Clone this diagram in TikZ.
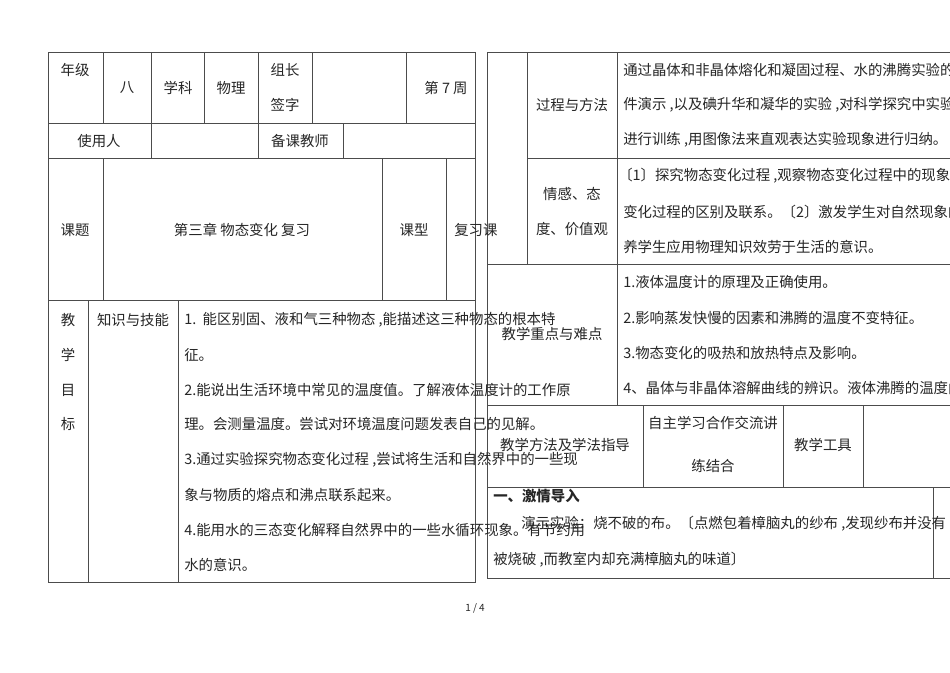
\documentclass[tikz,border=0pt]{standalone}
\usepackage{fontspec}
\setmainfont{Noto Sans CJK SC}
\begin{document}
\begin{tikzpicture}[x=0.75pt,y=-0.75pt,
  ln/.style={draw=black!70,line width=0.6pt},
  tx/.style={inner sep=0pt,font=\fontsize{10.8pt}{12pt}\selectfont,text=black!85},
  lt/.style={tx,anchor=west}]
\useasboundingbox (0,0) rectangle (950,672);
\clip (0,0) rectangle (950,672);
\fill[white] (0,0) rectangle (950,672);
% left table
\draw[ln] (48,52) rectangle (475,582);
\foreach \y in {123,158,300} \draw[ln] (48,\y) -- (475,\y);
\foreach \x in {103,151,204,258,312,406} \draw[ln] (\x,52) -- (\x,123);
\foreach \x in {151,258,343} \draw[ln] (\x,123) -- (\x,158);
\foreach \x in {103,382,446} \draw[ln] (\x,158) -- (\x,300);
\foreach \x in {88,178} \draw[ln] (\x,300) -- (\x,582);
% right table
\draw[ln] (487,52) -- (960,52);
\draw[ln] (487,52) -- (487,578) -- (960,578);
\draw[ln] (527,158) -- (960,158);
\draw[ln] (487,264) -- (960,264);
\draw[ln] (487,405) -- (960,405);
\draw[ln] (487,487) -- (960,487);
\draw[ln] (527,52) -- (527,264);
\draw[ln] (617,52) -- (617,405);
\foreach \x in {643,783,863} \draw[ln] (\x,405) -- (\x,487);
\draw[ln] (933,487) -- (933,578);
% left texts
\node[tx] (a1) at (75,70) {年级};
\node[tx] (a2) at (127,88) {八};
\node[tx] (a3) at (178,88) {学科};
\node[tx] (a4) at (231,88) {物理};
\node[tx] (a5) at (285,70) {组长};
\node[tx] (a6) at (285,105) {签字};
\node[tx] (a7) at (446,88) {第 7 周};
\node[tx] (b1) at (99,141) {使用人};
\node[tx] (b2) at (300,141) {备课教师};
\node[tx] (c1) at (75,230) {课题};
\node[tx] (c2) at (242,230) {第三章 物态变化 复习};
\node[tx] (c3) at (414,230) {课型};
\node[lt] (c4) at (454,230) {复习课};
\node[tx] (d1) at (68,320) {教};
\node[tx] (d2) at (68,355) {学};
\node[tx] (d3) at (68,390) {目};
\node[tx] (d4) at (68,424) {标};
\node[tx] (d5) at (133,320) {知识与技能};
\node[lt] (e1) at (184,320) {1.\ \ 能区别固、液和气三种物态 ,能描述这三种物态的根本特};
\node[lt] (e2) at (184,355) {征。};
\node[lt] (e3) at (184,390) {2.能说出生活环境中常见的温度值。了解液体温度计的工作原};
\node[lt] (e4) at (184,424) {理。会测量温度。尝试对环境温度问题发表自己的见解。};
\node[lt] (e5) at (184,460) {3.通过实验探究物态变化过程 ,尝试将生活和自然界中的一些现};
\node[lt] (e6) at (184,495) {象与物质的熔点和沸点联系起来。};
\node[lt] (e7) at (184,530) {4.能用水的三态变化解释自然界中的一些水循环现象。有节约用};
\node[lt] (e8) at (184,565) {水的意识。};
% right texts
\node[tx] (f1) at (572,105) {过程与方法};
\node[lt] (f2) at (623,70) {通过晶体和非晶体熔化和凝固过程、水的沸腾实验的多};
\node[lt] (f3) at (623,105) {件演示 ,以及碘升华和凝华的实验 ,对科学探究中实验设};
\node[lt] (f4) at (623,140) {进行训练 ,用图像法来直观表达实验现象进行归纳。};
\node[tx] (g1) at (572,194) {情感、态};
\node[tx] (g2) at (572,229) {度、价值观};
\node[lt] (g3) at (618,176) {〔1〕探究物态变化过程 ,观察物态变化过程中的现象 ,};
\node[lt] (g4) at (623,212) {变化过程的区别及联系。〔2〕激发学生对自然现象的};
\node[lt] (g5) at (623,247) {养学生应用物理知识效劳于生活的意识。};
\node[tx] (h1) at (552,334) {教学重点与难点};
\node[lt] (h2) at (623,282) {1.液体温度计的原理及正确使用。};
\node[lt] (h3) at (623,318) {2.影响蒸发快慢的因素和沸腾的温度不变特征。};
\node[lt] (h4) at (623,353) {3.物态变化的吸热和放热特点及影响。};
\node[lt] (h5) at (623,388) {4、晶体与非晶体溶解曲线的辨识。液体沸腾的温度曲};
\node[tx] (i1) at (565,445) {教学方法及学法指导};
\node[tx] (i2) at (713,423) {自主学习合作交流讲};
\node[tx] (i3) at (713,466) {练结合};
\node[tx] (i4) at (823,445) {教学工具};
\node[lt,font=\fontsize{10.8pt}{12pt}\selectfont\bfseries] (j1) at (493,496) {一、激情导入};
\node[lt] (j2) at (521,524) {演示实验：烧不破的布。〔点燃包着樟脑丸的纱布 ,发现纱布并没有};
\node[lt] (j3) at (493,560) {被烧破 ,而教室内却充满樟脑丸的味道〕};
\node[tx,font=\fontsize{7.5pt}{9pt}\selectfont] (p) at (475,608) {1 / 4};
\end{tikzpicture}
\end{document}
